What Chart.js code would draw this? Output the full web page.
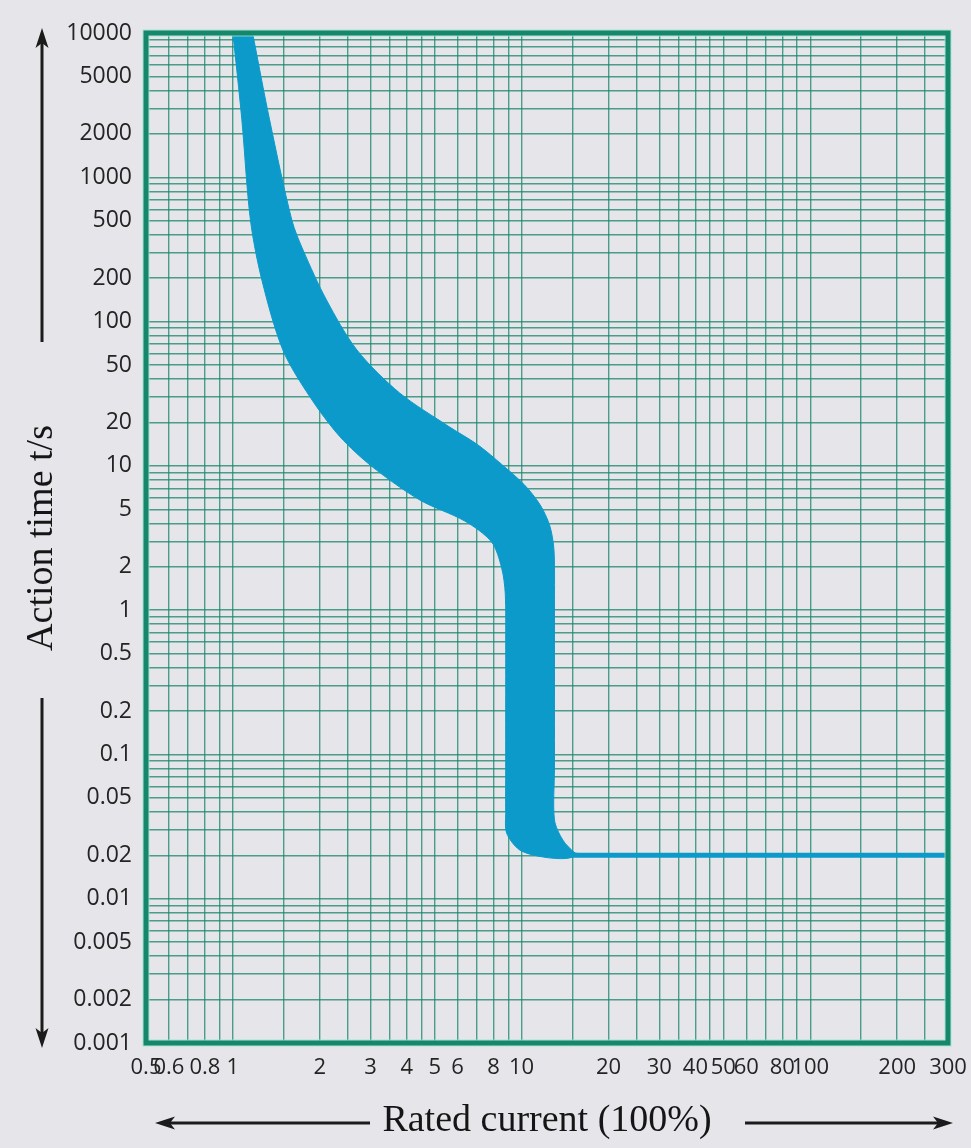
<!DOCTYPE html>
<html lang="en">
<head>
<meta charset="UTF-8">
<title>Action time vs rated current</title>
<script src="https://cdn.jsdelivr.net/npm/chart.js"></script>
<style>
  body { margin: 0; background: #e6e6ea; }
  #wrap { width: 971px; height: 1148px; position: relative; }
</style>
</head>
<body>
<div id="wrap"><canvas id="curve"></canvas></div>
<script>
// trip band: current in multiples of rated current, time in s
// left (fast) edge, from the top down
const leftEdgeCurrent = [1.0, 1.074, 1.15, 1.26, 1.49, 1.85, 2.35, 3.05, 4.44, 6.35, 7.87, 8.53, 8.78, 8.81, 8.81, 8.81, 8.81, 8.87, 9.84, 11.8, 14.3];
const leftEdgeTime    = [10000, 2500, 506, 194, 63.5, 30, 15.9, 9.8, 5.8, 4.15, 2.97, 1.96, 1.3, 0.6, 0.2, 0.08, 0.039, 0.0286, 0.0218, 0.0195, 0.019];
// right (slow) edge, from the bottom up
const rightEdgeCurrent = [15.9, 15.3, 13.9, 13.0, 13.0, 13.0, 13.0, 13.0, 13.0, 12.9, 12.5, 11.6, 10.24, 8.6, 7.05, 5.63, 3.78, 2.69, 2.11, 1.75, 1.6, 1.34, 1.17];
const rightEdgeTime    = [0.0205, 0.0208, 0.0255, 0.0352, 0.08, 0.2, 0.5, 1.1, 2.06, 2.83, 3.89, 5.36, 7.37, 10.1, 14.0, 18.6, 32, 63.5, 141, 313, 506, 2500, 10000];
// instantaneous trip line
const instCurrent = [14.3, 300];
const instTime = [0.02, 0.02];

// grid lines and tick labels
const xGrid = [0.5, 0.6, 0.7, 0.8, 0.9, 1, 1.5, 2, 2.5, 3, 3.5, 4, 4.5, 5, 6, 7, 8, 9, 10, 15, 20, 25, 30, 35, 40, 45, 50, 60, 70, 80, 90, 100, 150, 200, 250, 300];
const xLabels = [0.5, 0.6, 0.8, 1, 2, 3, 4, 5, 6, 8, 10, 20, 30, 40, 50, 60, 80, 100, 200, 300];
const yDecades = [0.001, 0.01, 0.1, 1, 10, 100, 1000];
const ySteps = [1, 2, 3, 4, 5, 6, 7, 8, 9];
const yLabels = [0.001, 0.002, 0.005, 0.01, 0.02, 0.05, 0.1, 0.2, 0.5, 1, 2, 5, 10, 20, 50, 100, 200, 500, 1000, 2000, 5000, 10000];
const yGrid = yDecades.flatMap(d => ySteps.map(s => s * d)).concat([10000]);

const BAND = '#0b9aca';
const GRID = 'rgba(30, 135, 112, 0.78)';
const SERIF = "'Liberation Serif', 'Times New Roman', serif";

Chart.defaults.font.family = "'Open Sans', sans-serif";

function pick(labels) {
    return v => {
        const hit = labels.find(l => Math.abs(Math.log10(l / v)) < 1e-6);
        return hit === undefined ? '' : String(hit);
    };
}

// keep the plot box fixed, whatever the edge labels need
function noEdgePadding(ax) {
    ax.paddingLeft = 0;
    ax.paddingRight = 0;
    ax.paddingTop = 0;
    ax.paddingBottom = 0;
}

const bandPoints = leftEdgeCurrent.map((x, i) => ({x: x, y: leftEdgeTime[i]}))
    .concat(rightEdgeCurrent.map((x, i) => ({x: x, y: rightEdgeTime[i]})));

// arrow with a notched head, tip at (x2, y2)
function arrow(ctx, x1, y1, x2, y2) {
    const len = Math.hypot(x2 - x1, y2 - y1);
    ctx.save();
    ctx.translate(x2, y2);
    ctx.rotate(Math.atan2(y2 - y1, x2 - x1));
    ctx.lineWidth = 3;
    ctx.beginPath();
    ctx.moveTo(-len, 0);
    ctx.lineTo(-12, 0);
    ctx.stroke();
    ctx.beginPath();
    ctx.moveTo(0, 0);
    ctx.lineTo(-20, -6.5);
    ctx.lineTo(-15, 0);
    ctx.lineTo(-20, 6.5);
    ctx.closePath();
    ctx.fill();
    ctx.restore();
}

const frame = {
    id: 'frame',
    afterDatasetsDraw(chart) {
        const {ctx, chartArea: a} = chart;
        ctx.save();
        ctx.strokeStyle = 'rgba(150, 228, 212, 0.8)';
        ctx.lineWidth = 7;
        ctx.strokeRect(a.left, a.top, a.right - a.left, a.bottom - a.top);
        ctx.strokeStyle = '#17876b';
        ctx.lineWidth = 5;
        ctx.strokeRect(a.left, a.top, a.right - a.left, a.bottom - a.top);
        ctx.restore();
    },
    afterDraw(chart) {
        const ctx = chart.ctx;
        ctx.save();
        ctx.strokeStyle = '#1b1b1b';
        ctx.fillStyle = '#1b1b1b';
        arrow(ctx, 42, 342, 42, 28);
        arrow(ctx, 42, 698, 42, 1048);
        arrow(ctx, 370, 1123, 155, 1123);
        arrow(ctx, 745, 1123, 953, 1123);
        ctx.restore();
    }
};

new Chart(document.getElementById('curve'), {
    type: 'line',
    data: {
        datasets: [
            {
                label: 'instantaneous',
                data: instCurrent.map((x, i) => ({x: x, y: instTime[i]})),
                borderColor: BAND,
                borderWidth: 5,
                borderCapStyle: 'butt',
                pointRadius: 0,
                fill: false
            },
            {
                label: 'band',
                data: bandPoints,
                borderColor: BAND,
                backgroundColor: BAND,
                borderWidth: 1,
                pointRadius: 0,
                tension: 0.3,
                fill: 'shape'
            }
        ]
    },
    options: {
        responsive: true,
        maintainAspectRatio: false,
        animation: false,
        layout: { padding: { top: 33, right: 23, bottom: 0, left: 0 } },
        plugins: { legend: { display: false }, tooltip: { enabled: false } },
        scales: {
            x: {
                type: 'logarithmic',
                min: 0.5,
                max: 300,
                afterBuildTicks: ax => { ax.ticks = xGrid.map(v => ({value: v})); },
                afterFit: ax => { ax.height = 105; noEdgePadding(ax); },
                grid: { color: GRID, lineWidth: 1.4, drawTicks: false },
                border: { display: false },
                ticks: {
                    callback: pick(xLabels),
                    autoSkip: false,
                    maxRotation: 0,
                    minRotation: 0,
                    padding: 12,
                    color: '#242424',
                    font: { size: 22 }
                },
                title: {
                    display: true,
                    text: 'Rated current (100%)',
                    color: '#151515',
                    font: { family: SERIF, size: 38 },
                    padding: { top: 0, bottom: 4 }
                }
            },
            y: {
                type: 'logarithmic',
                min: 0.001,
                max: 10000,
                afterBuildTicks: ax => { ax.ticks = yGrid.map(v => ({value: v})); },
                afterFit: ax => { ax.width = 146; noEdgePadding(ax); },
                grid: { color: GRID, lineWidth: 1.4, drawTicks: false },
                border: { display: false },
                ticks: {
                    callback: pick(yLabels),
                    autoSkip: false,
                    padding: 14,
                    color: '#242424',
                    font: { size: 23 }
                },
                title: {
                    display: true,
                    text: 'Action time t/s',
                    color: '#151515',
                    font: { family: SERIF, size: 38 },
                    padding: { top: 19, bottom: 0 }
                }
            }
        }
    },
    plugins: [frame]
});
</script>
</body>
</html>
